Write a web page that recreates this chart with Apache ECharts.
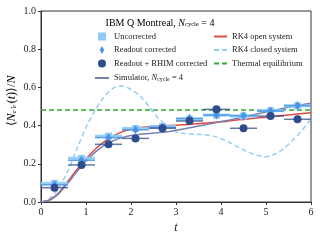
<!DOCTYPE html>
<html><head><meta charset="utf-8">
<script src="https://cdn.jsdelivr.net/npm/echarts@6/dist/echarts.min.js"></script>
<style>html,body{margin:0;padding:0;background:#fff}#c{width:320px;height:240px}</style>
</head><body><div id="c"></div>
<script>
// ---- data ----
const times = [0.3, 0.9, 1.5, 2.1, 2.7, 3.3, 3.9, 4.5, 5.1, 5.7];
const timeErr = 0.3;
const uncorrected = [0.098, 0.229, 0.345, 0.385, 0.395, 0.433, 0.455, 0.450, 0.478, 0.503];
const readout     = [0.090, 0.218, 0.337, 0.378, 0.390, 0.438, 0.455, 0.452, 0.476, 0.505];
const rhim        = [0.075, 0.194, 0.302, 0.333, 0.386, 0.424, 0.485, 0.386, 0.450, 0.433];

const curveT = [0, 0.2, 0.4, 0.6, 0.8, 1.0, 1.2, 1.4, 1.6, 1.8, 2.0, 2.2, 2.4, 2.6, 2.8, 3.0, 3.2, 3.4, 3.6, 3.8, 4.0, 4.2, 4.4, 4.6, 4.8, 5.0, 5.2, 5.4, 5.6, 5.8, 6.0];
const rk4Open   = [0, 0.012, 0.05, 0.11, 0.17, 0.225, 0.275, 0.315, 0.345, 0.367, 0.381, 0.39, 0.394, 0.397, 0.40, 0.402, 0.405, 0.408, 0.412, 0.416, 0.42, 0.425, 0.430, 0.435, 0.440, 0.444, 0.449, 0.454, 0.458, 0.463, 0.467];
const rk4Closed = [0, 0.02, 0.075, 0.165, 0.28, 0.39, 0.48, 0.55, 0.595, 0.607, 0.59, 0.555, 0.5, 0.44, 0.40, 0.368, 0.358, 0.356, 0.353, 0.347, 0.332, 0.31, 0.285, 0.262, 0.245, 0.237, 0.25, 0.28, 0.325, 0.375, 0.435];
const simulator = [0, 0.01, 0.045, 0.10, 0.16, 0.215, 0.26, 0.295, 0.32, 0.337, 0.348, 0.355, 0.359, 0.363, 0.368, 0.376, 0.384, 0.393, 0.402, 0.411, 0.421, 0.43, 0.44, 0.45, 0.461, 0.471, 0.481, 0.491, 0.5, 0.509, 0.517];
const thermal = 0.482;

const xTicks = [0, 1, 2, 3, 4, 5, 6];
const yTicks = [0, 0.2, 0.4, 0.6, 0.8, 1.0];

// ---- colours ----
const C_UNC = '#8ccbf5', C_RO = '#4a93e6', C_RH = '#2f4d8c', C_SIM = '#7482b2',
      C_OPEN = '#de4a42', C_CLOSED = '#93cff5', C_TH = '#35a835';
const FONT = 'Liberation Serif';

const pairs = (xs, ys) => xs.map((x, i) => [x, ys[i]]);

function errSeries(name, vals, color, width, z) {
  return {
    type: 'custom', name: name, z: z, silent: true,
    data: pairs(times, vals),
    renderItem: function (params, api) {
      const t = api.value(0), v = api.value(1);
      const a = api.coord([t - timeErr, v]), b = api.coord([t + timeErr, v]);
      return { type: 'line', shape: { x1: a[0], y1: a[1], x2: b[0], y2: b[1] },
               style: { stroke: color, lineWidth: width } };
    }
  };
}

const richLegend = {
  a: { fontFamily: FONT, fontSize: 8.5, color: '#222' },
  i: { fontFamily: FONT, fontSize: 8.5, fontStyle: 'italic', color: '#222' },
  s: { fontFamily: FONT, fontSize: 6, color: '#222', verticalAlign: 'bottom', lineHeight: 6, padding: [4, 0, 0, 0] }
};
const noSym = { opacity: 0 };
const ICON_SQ = 'path://M0,0h10v10h-10z';
const ICON_DM = 'path://M5,0L9,7L5,14L1,7Z';

const chart = echarts.init(document.getElementById('c'), null, { renderer: 'canvas' });
chart.setOption({
  animation: false,
  grid: { left: 41, right: 9, top: 11, bottom: 38, show: true, borderColor: '#333', borderWidth: 1 },
  xAxis: {
    type: 'value', min: 0, max: 6, interval: 1,
    axisLine: { lineStyle: { color: '#333', width: 1 } },
    axisTick: { length: 3, lineStyle: { color: '#333' } },
    splitLine: { show: false },
    axisLabel: { fontFamily: FONT, fontSize: 10, color: '#222', margin: 5,
                 formatter: v => xTicks.indexOf(v) >= 0 ? String(v) : '' },
    name: 't', nameLocation: 'middle', nameGap: 18,
    nameTextStyle: { fontFamily: FONT, fontSize: 12, fontStyle: 'italic', color: '#222' }
  },
  yAxis: {
    type: 'value', min: 0, max: 1, interval: 0.2,
    axisLine: { show: true, lineStyle: { color: '#333', width: 1 } },
    axisTick: { show: true, length: 3, lineStyle: { color: '#333' } },
    splitLine: { show: false },
    axisLabel: { fontFamily: FONT, fontSize: 10, color: '#222', margin: 5,
                 formatter: v => yTicks.some(t => Math.abs(t - v) < 1e-9) ? v.toFixed(1) : '' }
  },
  legend: [
    {
      data: [
        { name: 'Uncorrected', icon: ICON_SQ },
        { name: 'Readout corrected', icon: ICON_DM },
        { name: 'Readout + RHIM corrected', icon: 'circle' },
        { name: 'Simulator', itemStyle: noSym }
      ],
      orient: 'vertical', left: 94, top: 32, padding: 0, itemGap: 4.5,
      itemWidth: 14, itemHeight: 8, selectedMode: false, symbolKeepAspect: true,
      formatter: n => n === 'Simulator' ? '{a|Simulator, }{i|N}{s|cycle}{a| = 4}' : '{a|' + n + '}',
      textStyle: { rich: richLegend, fontFamily: FONT, fontSize: 8.5 }
    },
    {
      data: [
        { name: 'RK4 open system', itemStyle: noSym },
        { name: 'RK4 closed system', itemStyle: noSym },
        { name: 'Thermal equilibrium', itemStyle: noSym }
      ],
      orient: 'vertical', left: 213, top: 32, padding: 0, itemGap: 4.5,
      itemWidth: 13, itemHeight: 8, selectedMode: false,
      formatter: n => '{a|' + n + '}',
      textStyle: { rich: richLegend, fontFamily: FONT, fontSize: 8.5 }
    }
  ],
  graphic: [
    {
      type: 'text', left: 'center', top: 17, z: 100,
      style: {
        text: '{a|IBM Q Montreal, }{i|N}{s|cycle}{a| = 4}',
        rich: {
          a: { fontFamily: FONT, fontSize: 10, color: '#222' },
          i: { fontFamily: FONT, fontSize: 10, fontStyle: 'italic', color: '#222' },
          s: { fontFamily: FONT, fontSize: 6.5, color: '#222', verticalAlign: 'bottom', lineHeight: 6, padding: [4, 0, 0, 0] }
        }
      }
    },
    {
      type: 'text', x: 12, y: 101, rotation: Math.PI / 2, z: 100,
      style: {
        text: '{a|⟨}{i|N}{s|e⁺e⁻}{a|(}{i|t}{a|)⟩/}{i|N}',
        align: 'center', verticalAlign: 'middle',
        rich: {
          a: { fontFamily: FONT, fontSize: 12, color: '#222' },
          i: { fontFamily: FONT, fontSize: 12, fontStyle: 'italic', color: '#222' },
          s: { fontFamily: FONT, fontSize: 7, fontStyle: 'italic', color: '#222', verticalAlign: 'bottom', lineHeight: 7, padding: [5, 0, 0, 0] }
        }
      }
    }
  ],
  series: [
    { type: 'line', name: 'Thermal equilibrium', symbol: 'none', z: 2,
      data: [[0, thermal], [6, thermal]],
      lineStyle: { color: C_TH, width: 1.5, type: [5, 3] }, itemStyle: { color: C_TH } },
    { type: 'line', name: 'RK4 closed system', symbol: 'none', smooth: 0.3, z: 2,
      data: pairs(curveT, rk4Closed),
      lineStyle: { color: C_CLOSED, width: 1.5, type: [5, 3] }, itemStyle: { color: C_CLOSED } },
    { type: 'line', name: 'RK4 open system', symbol: 'none', smooth: 0.3, z: 3,
      data: pairs(curveT, rk4Open),
      lineStyle: { color: C_OPEN, width: 1.5 }, itemStyle: { color: C_OPEN } },
    { type: 'line', name: 'Simulator', symbol: 'none', smooth: 0.3, z: 3,
      data: pairs(curveT, simulator),
      lineStyle: { color: C_SIM, width: 1.5 }, itemStyle: { color: C_SIM } },
    errSeries('errUnc', uncorrected, 'rgba(140,203,245,0.9)', 3, 4),
    { type: 'scatter', name: 'Uncorrected', symbol: 'rect', symbolSize: 7, z: 5,
      data: pairs(times, uncorrected), itemStyle: { color: C_UNC, opacity: 1 } },
    errSeries('errRo', readout, 'rgba(74,147,230,0.85)', 1.5, 6),
    { type: 'scatter', name: 'Readout corrected', symbol: 'diamond', symbolSize: [6, 9], z: 7,
      data: pairs(times, readout), itemStyle: { color: C_RO, opacity: 1 } },
    errSeries('errRh', rhim, 'rgba(47,77,140,0.75)', 1.5, 8),
    { type: 'scatter', name: 'Readout + RHIM corrected', symbol: 'circle', symbolSize: 8, z: 9,
      data: pairs(times, rhim), itemStyle: { color: C_RH, opacity: 1 } }
  ]
});
</script></body></html>
